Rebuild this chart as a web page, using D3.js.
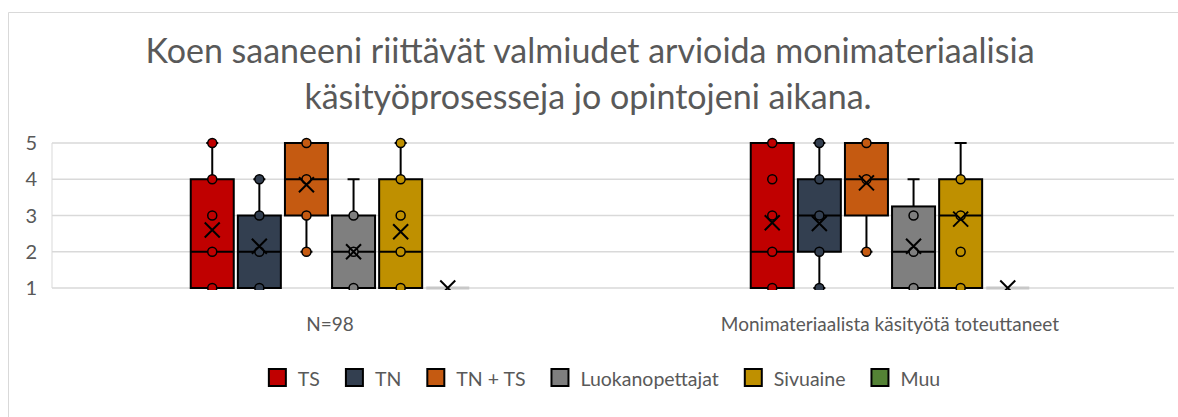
<!DOCTYPE html>
<html>
<head>
<meta charset="utf-8">
<script src="https://cdn.jsdelivr.net/npm/d3@7"></script>
<style>
  body { margin: 0; background: #fff; }
  text { font-family: Lato, "Noto Sans", sans-serif; fill: #595959; }
</style>
</head>
<body>
<div id="chart"></div>
<script>
const width = 1178;
const height = 417;

// data
const categories = ["N=98", "Monimateriaalista käsityötä toteuttaneet"];
const series = ["TS", "TN", "TN + TS", "Luokanopettajat", "Sivuaine", "Muu"];
const colors = ["#C00000", "#333F50", "#C55A11", "#7F7F7F", "#BF9000", "#548235"];
const yTicks = [1, 2, 3, 4, 5];

const whiskerLow = [[1, 1, 2, 1, 1, 1], [1, 1, 2, 1, 1, 1]];
const q1 = [[1, 1, 3, 1, 1, 1], [1, 2, 3, 1, 1, 1]];
const median = [[2, 2, 4, 2, 2, 1], [2, 3, 4, 2, 3, 1]];
const q3 = [[4, 3, 5, 3, 4, 1], [5, 4, 5, 3.25, 4, 1]];
const whiskerHigh = [[5, 4, 5, 4, 5, 1], [5, 5, 5, 4, 5, 1]];
const means = [[2.6, 2.15, 3.85, 2.0, 2.55, 1], [2.8, 2.78, 3.9, 2.15, 2.9, 1]];
const points = [
  [[1, 2, 3, 4, 5], [1, 2, 3, 4], [2, 3, 4, 5], [1, 2, 3], [1, 2, 3, 4, 5], []],
  [[1, 2, 3, 4, 5], [1, 2, 3, 4, 5], [2, 4, 5], [1, 2, 3], [1, 2, 3, 4], []]
];

const svg = d3.select("#chart").append("svg")
  .attr("width", width)
  .attr("height", height);

// chart frame
svg.append("path")
  .attr("d", "M8.5,417V12.5H1178")
  .attr("fill", "none")
  .attr("stroke", "#d9d9d9");

// title
svg.append("text")
  .attr("x", 590).attr("y", 63)
  .attr("text-anchor", "middle")
  .style("font-size", "34px")
  .text("Koen saaneeni riittävät valmiudet arvioida monimateriaalisia");
svg.append("text")
  .attr("x", 588).attr("y", 109)
  .attr("text-anchor", "middle")
  .style("font-size", "34px")
  .text("käsityöprosesseja jo opintojeni aikana.");

const plotLeft = 52, plotRight = 1174;
const y = d3.scaleLinear().domain([1, 5]).range([288, 143]);
const x0 = d3.scaleBand().domain(categories).range([50, 1170]);
const slot = 47.1;
const x1 = d3.scaleBand().domain(series)
  .range([-slot * 3, slot * 3])
  .paddingInner(0.087)
  .paddingOuter(0.0435);

// gridlines
svg.append("g")
  .selectAll("line")
  .data(yTicks)
  .join("line")
  .attr("x1", plotLeft).attr("x2", plotRight)
  .attr("y1", d => y(d)).attr("y2", d => y(d))
  .attr("stroke", "#d9d9d9")
  .attr("stroke-width", 1.5);

svg.append("line")
  .attr("x1", plotLeft).attr("x2", plotLeft)
  .attr("y1", y(5)).attr("y2", y(1))
  .attr("stroke", "#d9d9d9");

// y tick labels
svg.append("g")
  .selectAll("text")
  .data(yTicks)
  .join("text")
  .attr("x", 37)
  .attr("y", d => y(d) + 7)
  .attr("text-anchor", "end")
  .style("font-size", "20px")
  .text(d => d);

// category labels
svg.append("g")
  .selectAll("text")
  .data(categories)
  .join("text")
  .attr("x", d => x0(d) + x0.bandwidth() / 2)
  .attr("y", 331)
  .attr("text-anchor", "middle")
  .style("font-size", "19px")
  .text(d => d);

svg.append("defs").append("clipPath").attr("id", "plotclip")
  .append("rect")
  .attr("x", 0).attr("y", 100)
  .attr("width", width).attr("height", 190);

const plot = svg.append("g").attr("clip-path", "url(#plotclip)");

categories.forEach(function (cat, ci) {
  const cx = x0(cat) + x0.bandwidth() / 2;
  series.forEach(function (s, si) {
    const g = plot.append("g");
    const left = cx + x1(s);
    const bw = x1.bandwidth();
    const mid = left + bw / 2;
    const col = colors[si];

    if (q1[ci][si] === q3[ci][si]) {
      // empty box, only the flat edge shows
      g.append("line")
        .attr("x1", left).attr("x2", left + bw)
        .attr("y1", y(q1[ci][si])).attr("y2", y(q1[ci][si]))
        .attr("stroke", "#c8c8c8").attr("stroke-width", 3);
    } else {
      // whiskers
      [[whiskerLow[ci][si], q1[ci][si]], [q3[ci][si], whiskerHigh[ci][si]]].forEach(function (w) {
        if (w[0] === w[1]) return;
        g.append("line")
          .attr("x1", mid).attr("x2", mid)
          .attr("y1", y(w[0])).attr("y2", y(w[1]))
          .attr("stroke", "#000").attr("stroke-width", 2);
      });
      [whiskerLow[ci][si], whiskerHigh[ci][si]].forEach(function (v) {
        g.append("line")
          .attr("x1", mid - 6).attr("x2", mid + 6)
          .attr("y1", y(v)).attr("y2", y(v))
          .attr("stroke", "#000").attr("stroke-width", 2);
      });
      g.append("rect")
        .attr("x", left).attr("width", bw)
        .attr("y", y(q3[ci][si]))
        .attr("height", y(q1[ci][si]) - y(q3[ci][si]))
        .attr("fill", col)
        .attr("stroke", "#000").attr("stroke-width", 2);
      g.append("line")
        .attr("x1", left).attr("x2", left + bw)
        .attr("y1", y(median[ci][si])).attr("y2", y(median[ci][si]))
        .attr("stroke", "#000").attr("stroke-width", 2);
    }

    g.selectAll("circle")
      .data(points[ci][si])
      .join("circle")
      .attr("cx", mid)
      .attr("cy", d => y(d))
      .attr("r", 4.5)
      .attr("fill", col)
      .attr("stroke", "#000").attr("stroke-width", 1.5);

    // mean marker
    const my = y(means[ci][si]);
    g.append("path")
      .attr("d", `M${mid - 7.5},${my - 7.5}L${mid + 7.5},${my + 7.5}M${mid + 7.5},${my - 7.5}L${mid - 7.5},${my + 7.5}`)
      .attr("stroke", "#000").attr("stroke-width", 2)
      .attr("fill", "none");
  });
});

// legend
const legend = svg.append("g");
let lx = 0;
series.forEach(function (s, i) {
  const item = legend.append("g").attr("transform", `translate(${lx},0)`);
  item.append("rect")
    .attr("x", 1).attr("y", 369)
    .attr("width", 17).attr("height", 17)
    .attr("fill", colors[i])
    .attr("stroke", "#000").attr("stroke-width", 2);
  const t = item.append("text")
    .attr("x", 30).attr("y", 386)
    .style("font-size", "19.5px")
    .text(s);
  lx += 30 + t.node().getComputedTextLength() + 25;
});
lx -= 25;
legend.attr("transform", `translate(${604 - lx / 2},0)`);
</script>
</body>
</html>
